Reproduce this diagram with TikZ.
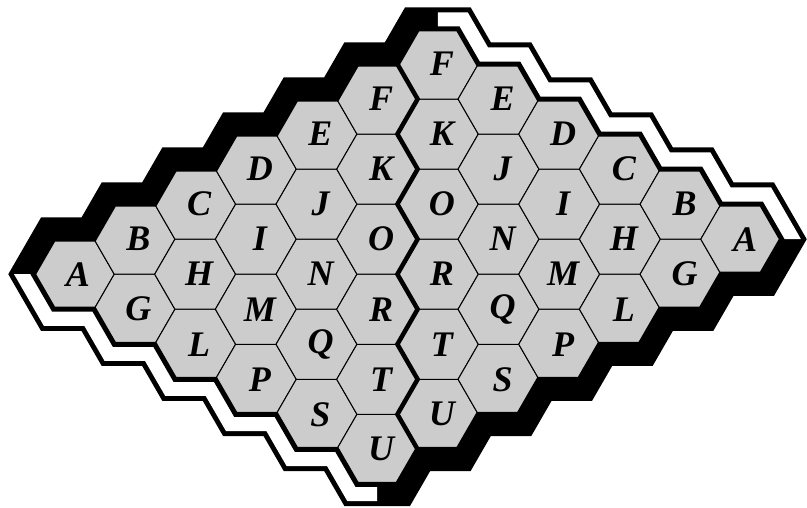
\documentclass[tikz,border=0pt]{standalone}
\usepackage{fontspec}
\setmainfont{Liberation Serif}
\definecolor{cgrey}{HTML}{CCCCCC}
\tikzset{
  every picture/.style={x=1pt, y=-1pt},
  cell/.style={fill=cgrey, draw=black, line width=1pt},
  band/.style={draw=black, line width=43.4pt, line join=miter},
  gap/.style={draw=white, line width=33.4pt, line join=miter},
  rim/.style={draw=black, line width=5pt, line join=miter},
  divide/.style={draw=black, line width=4.5pt, line join=miter, line cap=round},
  letter/.style={font=\fontsize{36}{36}\selectfont\bfseries\itshape, inner sep=0pt, xshift=4pt},
}
% outline of the board, from the left corner round the rim
\newcommand\rimpath{(L)
  \foreach \i in {1,...,7} { -- ++(20.225,-35.03) -- ++(40.45,0) }
  \foreach \i in {1,...,5} { -- ++(20.225,35.03) -- ++(40.45,0) } -- ++(20.225,35.03)
  \foreach \i in {1,...,7} { -- ++(-20.225,35.03) -- ++(-40.45,0) } -- ++(-20.225,-35.03)
  \foreach \i in {1,...,5} { -- ++(-40.45,0) -- ++(-20.225,-35.03) } -- cycle}

\begin{document}
\begin{tikzpicture}
  \useasboundingbox (0,0) rectangle (807,507);
  \foreach \a in {0,...,6}
    \foreach \b in {0,...,5}
      \coordinate (c-\a-\b) at ({73.8+60.675*(\a+\b)}, {274.2+35.03*(\b-\a)});
  \coordinate (L) at (33.35,274.2);
  % black rim, then the white bands on two sides
  \draw[band] \rimpath;
  \begin{scope}
    \clip (437.85,0) rectangle (807,239.17) (0,274.2) rectangle (377.175,507);
    \draw[gap] \rimpath;
  \end{scope}
  % cells
  \foreach \a in {0,...,6}
    \foreach \b in {0,...,5}
      \draw[cell] (c-\a-\b) ++(40.45,0) -- ++(-20.225,-35.03) -- ++(-40.45,0)
        -- ++(-20.225,35.03) -- ++(20.225,35.03) -- ++(40.45,0) -- cycle;
  \draw[rim] \rimpath;
  % line between the two halves
  \draw[divide] (c-5-0) ++(20.225,-35.03)
    \foreach \i in {1,...,5} { -- ++(20.225,35.03) -- ++(-20.225,35.03) } -- ++(20.225,35.03);
  % letters
  \foreach \a in {0,...,6}
    \foreach \b in {0,...,5} {
      \pgfmathtruncatemacro\r{(\a+\b<=5) ? \b : 6-\a}
      \pgfmathtruncatemacro\p{(\a+\b<=5) ? \a : 5-\b}
      \pgfmathtruncatemacro\idx{6*\r-\r*(\r-1)/2+\p}
      \node[letter] (n-\a-\b) at (c-\a-\b) {\char\numexpr65+\idx\relax};
    }
\end{tikzpicture}
\end{document}
